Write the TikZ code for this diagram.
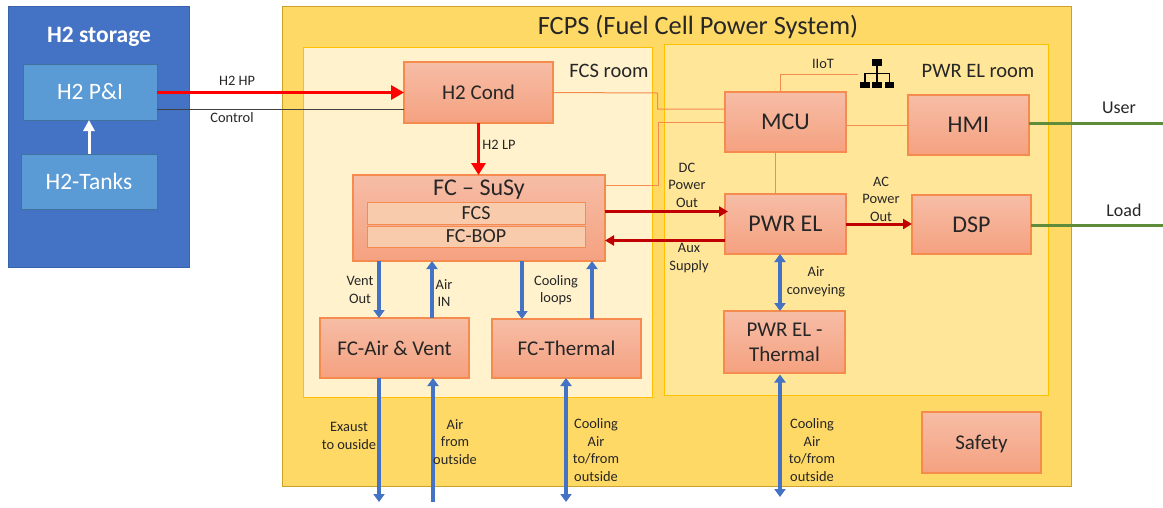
\documentclass[tikz,border=0pt]{standalone}
\usepackage{fontspec}
\setmainfont{Carlito}
\usetikzlibrary{arrows.meta, calc, positioning}
\definecolor{storageblue}{HTML}{4472C4}
\definecolor{storageedge}{HTML}{3A63AD}
\definecolor{unitblue}{HTML}{5B9BD5}
\definecolor{unitedge}{HTML}{41719C}
\definecolor{fcpsfill}{HTML}{FFD966}
\definecolor{fcpsedge}{HTML}{C9A227}
\definecolor{fcsfill}{HTML}{FFF2CC}
\definecolor{pwrfill}{HTML}{FFE699}
\definecolor{roomedge}{HTML}{FFC000}
\definecolor{blocktop}{HTML}{F6BDA6}
\definecolor{blockbot}{HTML}{F5A180}
\definecolor{blockedge}{HTML}{F58B4E}
\definecolor{subfill}{HTML}{F8CBAD}
\definecolor{h2red}{HTML}{FF0000}
\definecolor{powerred}{HTML}{C00000}
\definecolor{usergreen}{HTML}{5E8C3A}
\definecolor{inktext}{HTML}{262626}
\tikzset{
  region/.style={draw, line width=1pt, inner sep=0, outer sep=0},
  unitbox/.style={draw=unitedge, fill=unitblue, line width=1pt, inner sep=0, outer sep=0, text=white, font=\fontsize{23.5}{28}\selectfont},
  block/.style={draw=blockedge, top color=blocktop, bottom color=blockbot, line width=1.2pt, inner sep=0, outer sep=0, align=center, text=inktext, font=\fontsize{21}{25}\selectfont},
  bigblock/.style={block, font=\fontsize{24}{28}\selectfont},
  subblock/.style={draw=blockedge, fill=subfill, line width=1pt, inner sep=0, outer sep=0, text=inktext, font=\fontsize{20}{22}\selectfont},
  lbl/.style={inner sep=0, align=center, text=inktext, font=\fontsize{14.4}{17.5}\selectfont},
  roomlbl/.style={inner sep=0, text=inktext, font=\fontsize{20.5}{25}\selectfont},
  ctrl/.style={draw=blockedge, line width=1pt},
  h2flow/.style={draw=h2red, line width=3.5pt, -{Triangle[length=13pt,width=14pt]}},
  powerflow/.style={draw=powerred, line width=3pt, -{Triangle[length=9pt,width=10pt]}},
  airflow/.style={draw=storageblue, line width=3.5pt, -{Triangle[length=8pt,width=11pt]}},
  airboth/.style={draw=storageblue, line width=3.5pt, {Triangle[length=8pt,width=11pt]}-{Triangle[length=8pt,width=11pt]}},
  netbox/.style={fill=black, inner sep=0, outer sep=0, minimum width=9.5pt, minimum height=6.5pt},
}
\begin{document}
\begin{tikzpicture}[x=1pt,y=-1pt]
\useasboundingbox (0,0) rectangle (1163,507);
\node[region, draw=storageedge, fill=storageblue, minimum width=181pt, minimum height=261pt] (storage) at (98.5,136.5) {};
\node[region, draw=fcpsedge, fill=fcpsfill, minimum width=789pt, minimum height=480pt] (fcps) at (676.5,246) {};
\node[region, draw=roomedge, fill=fcsfill, minimum width=349pt, minimum height=350pt] (fcsroom) at (477.5,222) {};
\node[region, draw=roomedge, fill=pwrfill, minimum width=384pt, minimum height=351pt] (pwrroom) at (856,219.5) {};
\node[inner sep=0, text=white, font=\fontsize{23.5}{28}\bfseries\selectfont] (storagetitle) at (99,37) {H2 storage};
\node[inner sep=0, text=inktext, font=\fontsize{26.4}{30}\selectfont] (fcpstitle) at (698,27) {FCPS (Fuel Cell Power System)};
\node[roomlbl] (fcslbl) at (609,71) {FCS room};
\node[roomlbl] (pwrlbl) at (978,71) {PWR EL room};

\node[unitbox, minimum width=134pt, minimum height=56pt] (h2pi) at (90,92) {H2 P\&I};
\node[unitbox, minimum width=136pt, minimum height=55pt] (h2tanks) at (89,181.5) {H2-Tanks};

\node[block, minimum width=149pt, minimum height=61pt] (h2cond) at (478.5,92.5) {H2 Cond};
\node[block, minimum width=252pt, minimum height=86pt] (fcsusy) at (479,218) {};
\node[inner sep=0, text=inktext, font=\fontsize{24}{28}\selectfont] (susytitle) at (479,190) {FC -- SuSy};
\node[subblock, minimum width=218pt, minimum height=22pt] (fcs) at (476,213) {FCS};
\node[subblock, minimum width=218pt, minimum height=21pt] (fcbop) at (476,236.5) {FC-BOP};
\node[block, minimum width=149pt, minimum height=60pt] (fcair) at (394.5,348) {FC-Air \& Vent};
\node[block, minimum width=149pt, minimum height=59pt] (fcthermal) at (566.5,348.5) {FC-Thermal};
\node[bigblock, minimum width=121pt, minimum height=60pt] (mcu) at (785.5,122) {MCU};
\node[bigblock, minimum width=121pt, minimum height=60pt] (hmi) at (968.5,125) {HMI};
\node[bigblock, minimum width=121pt, minimum height=60pt] (pwrel) at (785.5,224) {PWR EL};
\node[bigblock, minimum width=119pt, minimum height=59pt] (dsp) at (971.5,224.5) {DSP};
\node[block, minimum width=121pt, minimum height=62pt] (pwrthermal) at (784.5,342) {PWR EL -\\Thermal};
\node[block, minimum width=119pt, minimum height=61pt, text depth=-2pt] (safety) at (981.5,442.5) {Safety};

\node[netbox] (nettop) at (877,62.5) {};
\node[netbox] (netleft) at (865,85) {};
\node[netbox] (netmid) at (877,85) {};
\node[netbox] (netright) at (889.5,85) {};
\draw[line width=1.2pt] (nettop.south) -- (netmid.north);
\draw[line width=1.2pt] (netleft.north) |- (nettop.south |- 0,73.5) -| (netright.north);

\coordinate (iiotend) at (858,74);
\coordinate (userend) at (1163,123);
\coordinate (loadend) at (1163,225);
\coordinate (outside) at (0,502);
\coordinate (outsidetwo) at (0,497);

\draw[ctrl] (h2cond.east) -- (657.5,93) |- ([yshift=13pt]mcu.west);
\draw[ctrl] (fcsusy.east |- 0,185.5) -- (658,185.5) |- (mcu.west);
\draw[ctrl] (mcu.east |- hmi.west) -- (hmi.west);
\draw[ctrl] (mcu.south -| 775,0) -- (pwrel.north -| 775,0);
\draw[ctrl] (mcu.north -| 780,0) |- (iiotend);

\draw[draw=black!75, line width=0.8pt] ([yshift=-17pt]h2pi.east) -- (h2cond.west |- 0,109);
\draw[h2flow] (h2pi.east |- h2cond.west) -- (h2cond.west);
\draw[h2flow, line width=3pt, -{Triangle[length=12pt,width=14pt]}] (h2cond.south) -- (fcsusy.north -| h2cond.south);
\draw[draw=white, line width=3pt, -{Triangle[length=11pt,width=11pt]}] (h2tanks.north) -- (h2pi.south -| h2tanks.north);

\draw[powerflow] (fcsusy.east |- 0,211.5) -- ([xshift=3pt]pwrel.west |- 0,211.5);
\draw[powerflow] (pwrel.west |- 0,240.5) -- (fcsusy.east |- 0,240.5);
\draw[powerflow] (pwrel.east) -- (dsp.west |- pwrel.east);

\draw[usergreen, line width=3pt] (hmi.east |- userend) -- (userend);
\draw[usergreen, line width=3pt] (dsp.east |- loadend) -- (loadend);

\foreach \x/\a/\b in {379/fcsusy.south/fcair.north, 432/fcair.north/fcsusy.south,
  522/fcsusy.south/fcthermal.north, 592/fcthermal.north/fcsusy.south,
  379/fcair.south/outside, 433/outside/fcair.south} {
\draw[airflow] (\a -| \x,0) -- (\b -| \x,0);
}
\draw[airboth] (fcthermal.south -| 566,0) -- (outside -| 566,0);
\draw[airboth] (pwrel.south -| 780,0) -- (pwrthermal.north -| 780,0);
\draw[airboth] ([yshift=-1.5pt]pwrthermal.south -| 780,0) -- (outsidetwo -| 780,0);

\foreach \n/\x/\y/\t in {hplbl/237/81/H2 HP, ctrllbl/232/118/Control, lplbl/499/145/H2 LP,
  iiotlbl/823/64/IIoT, dclbl/687/185/DC\\Power\\Out, aclbl/881/199/AC\\Power\\Out,
  auxlbl/689/258/Aux\\Supply, conveylbl/816/282/Air\\conveying, ventlbl/360/290/Vent\\Out,
  airinlbl/444/293/Air\\IN, looplbl/556/290/Cooling\\loops, exhaustlbl/349/436/Exaust\\to ouside,
  airoutlbl/455/442/Air\\from\\outside, coolonelbl/596/450/{Cooling\\Air\\to/from\\outside},
  cooltwolbl/812/450/{Cooling\\Air\\to/from\\outside}} {
\node[lbl] (\n) at (\x,\y) {\t};
}
\node[inner sep=0, text=inktext, font=\fontsize{18}{20}\selectfont] (userlbl) at (1119,108) {User};
\node[inner sep=0, text=inktext, font=\fontsize{18}{20}\selectfont] (loadlbl) at (1124,210) {Load};
\end{tikzpicture}
\end{document}
